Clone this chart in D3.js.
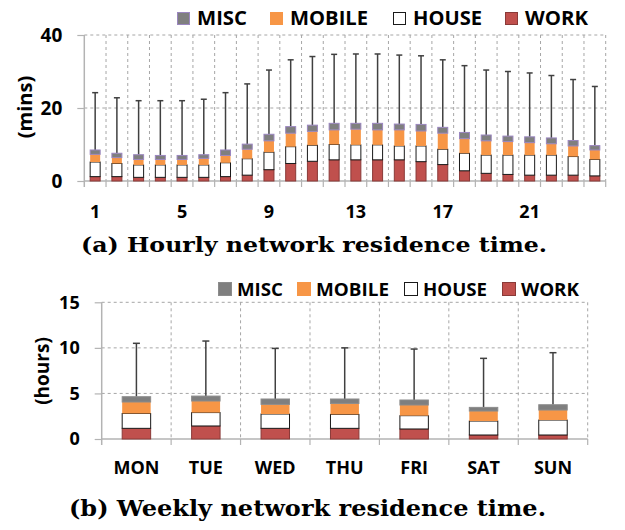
<!DOCTYPE html>
<html>
<head>
<meta charset="utf-8">
<script src="https://cdn.jsdelivr.net/npm/d3@7"></script>
<style>
  html, body { margin: 0; padding: 0; background: #fff; }
  svg { display: block; }
</style>
</head>
<body>
<svg id="chart" width="625" height="530"></svg>
<script>
// ---------- DATA ----------
const seriesNames = ["WORK", "HOUSE", "MOBILE", "MISC"];
const legendOrder = ["MISC", "MOBILE", "HOUSE", "WORK"];

// (a) hourly, minutes (segment values)
const hours = ["1","2","3","4","5","6","7","8","9","10","11","12","13","14","15","16","17","18","19","20","21","22","23","24"];
const hourWork   = [1.2,1.2,1.0,1.0,1.0,1.0,1.2,1.6,3.1,4.8,5.4,5.8,5.8,5.8,5.8,5.3,4.5,2.8,2.1,1.8,1.6,1.6,1.6,1.4];
const hourHouse  = [4.0,3.6,3.4,3.4,3.4,3.4,3.8,4.5,4.8,4.6,4.4,4.2,4.1,4.1,3.8,4.3,4.2,4.8,5.0,5.3,5.5,5.5,5.1,4.5];
const hourMobile = [2.1,1.6,1.5,1.5,1.5,1.8,2.0,2.6,3.1,3.7,3.8,4.0,4.3,4.1,4.4,4.1,4.4,4.0,3.9,3.7,3.4,3.1,2.9,2.6];
const hourMisc   = [1.2,1.2,1.3,1.1,1.1,1.0,1.5,1.4,1.8,1.8,1.7,1.8,1.6,1.8,1.6,1.8,1.6,1.7,1.6,1.5,1.6,1.6,1.5,1.2];
const hourMax    = [24.2,22.8,22.0,22.0,22.0,22.4,24.2,26.6,30.4,33.2,34.1,34.7,34.8,34.8,34.5,34.3,33.2,31.6,30.4,30.0,29.6,28.9,27.8,25.9];
const hourTicks  = [0, 20, 40];
const hourLabels = ["1","5","9","13","17","21"];

// (b) weekly, hours (segment values)
const days = ["MON","TUE","WED","THU","FRI","SAT","SUN"];
const dayWork   = [1.17,1.43,1.17,1.17,1.10,0.44,0.44];
const dayHouse  = [1.63,1.47,1.57,1.53,1.46,1.53,1.64];
const dayMobile = [1.26,1.27,1.06,1.20,1.17,1.10,1.10];
const dayMisc   = [0.58,0.54,0.59,0.49,0.55,0.40,0.58];
const dayMax    = [10.5,10.75,9.94,10.0,9.87,8.85,9.47];
const dayTicks  = [0, 5, 10, 15];

// ---------- STYLE ----------
const fills   = { WORK: "#c0504d", HOUSE: "#ffffff", MOBILE: "#f79646", MISC: "#7f7f7f" };
const strokes = { WORK: "#8a3a38", HOUSE: "#1a1a1a", MOBILE: "#f79646", MISC: "#9a86bf" };
const sans = "'Open Sans', 'DejaVu Sans', sans-serif";
const serif = "'DejaVu Serif', serif";
const gridColor = "#a6a6a6";
const axisColor = "#b3b3b3";

const svg = d3.select("#chart");

function drawPanel(cfg) {
  const g = svg.append("g");
  const rows = cfg.cats.map((c, i) => ({
    cat: c, WORK: cfg.work[i], HOUSE: cfg.house[i], MOBILE: cfg.mobile[i], MISC: cfg.misc[i], max: cfg.max[i]
  }));
  const x = d3.scaleBand().domain(cfg.cats).range([cfg.left, cfg.right]).padding(0);
  const y = d3.scaleLinear().domain([0, cfg.ymax]).range([cfg.bottom, cfg.top]);
  const step = x.step();
  const bw = step * cfg.barFrac;

  // horizontal dashed gridlines
  g.append("g").selectAll("line").data(cfg.ticks.filter(t => t > 0)).join("line")
    .attr("x1", cfg.left).attr("x2", cfg.right)
    .attr("y1", d => y(d)).attr("y2", d => y(d))
    .attr("stroke", gridColor).attr("stroke-width", 1).attr("stroke-dasharray", "3,3");

  // vertical dashed gridlines at category boundaries
  const bounds = d3.range(1, cfg.cats.length + 1).map(i => cfg.left + i * step);
  g.append("g").selectAll("line").data(bounds).join("line")
    .attr("x1", d => d).attr("x2", d => d)
    .attr("y1", cfg.top).attr("y2", cfg.bottom)
    .attr("stroke", gridColor).attr("stroke-width", 1).attr("stroke-dasharray", "3,3");

  // x axis line + boundary ticks
  g.append("line").attr("x1", cfg.left).attr("x2", cfg.right)
    .attr("y1", cfg.bottom).attr("y2", cfg.bottom)
    .attr("stroke", axisColor).attr("stroke-width", 1.5);
  g.append("g").selectAll("line").data(bounds).join("line")
    .attr("x1", d => d).attr("x2", d => d)
    .attr("y1", cfg.bottom).attr("y2", cfg.bottom + 6)
    .attr("stroke", axisColor).attr("stroke-width", 1.2);

  // y axis
  const ya = g.append("g").attr("transform", `translate(${cfg.left},0)`)
    .call(d3.axisLeft(y).tickValues(cfg.ticks).tickSize(7).tickPadding(15).tickSizeOuter(0));
  ya.select(".domain").attr("stroke", axisColor).attr("stroke-width", 1.5)
    .attr("d", `M0,${cfg.top}V${cfg.bottom + 6}`);
  ya.selectAll(".tick line").attr("stroke", axisColor).attr("stroke-width", 1.2);
  ya.selectAll(".tick text").attr("font-family", sans).attr("font-weight", 700)
    .attr("font-size", cfg.tickFont).attr("fill", "#000");

  // x labels
  const xa = g.append("g").attr("transform", `translate(0,${cfg.bottom})`)
    .call(d3.axisBottom(x).tickValues(cfg.xLabels).tickSize(0).tickPadding(cfg.xLabelPad));
  xa.select(".domain").remove();
  xa.selectAll(".tick text").attr("font-family", sans).attr("font-weight", 700)
    .attr("font-size", cfg.xFont).attr("fill", "#000");

  // y title
  g.append("text")
    .attr("transform", `translate(${cfg.ytitleX},${cfg.ytitleY}) rotate(-90)`)
    .attr("text-anchor", "middle").attr("dominant-baseline", "central")
    .attr("font-family", sans).attr("font-weight", 700).attr("font-size", cfg.ytitleFont)
    .text(cfg.ytitle);

  // stacked bars
  const stack = d3.stack().keys(seriesNames)(rows);
  const wg = g.append("g");
  wg.selectAll("line.w").data(rows).join("line")
    .attr("x1", d => x(d.cat) + step / 2).attr("x2", d => x(d.cat) + step / 2)
    .attr("y1", d => y(d.WORK + d.HOUSE + d.MOBILE + d.MISC)).attr("y2", d => y(d.max))
    .attr("stroke", "#404040").attr("stroke-width", 1.5);
  wg.selectAll("line.c").data(rows).join("line")
    .attr("x1", d => x(d.cat) + step / 2 - cfg.cap / 2).attr("x2", d => x(d.cat) + step / 2 + cfg.cap / 2)
    .attr("y1", d => y(d.max)).attr("y2", d => y(d.max))
    .attr("stroke", "#404040").attr("stroke-width", 1.5);

  stack.forEach(layer => {
    const key = layer.key;
    g.append("g").selectAll("rect").data(layer).join("rect")
      .attr("x", d => x(d.data.cat) + (step - bw) / 2)
      .attr("width", bw)
      .attr("y", d => y(d[1]))
      .attr("height", d => y(d[0]) - y(d[1]))
      .attr("fill", fills[key])
      .attr("stroke", key === "MISC" ? cfg.miscStroke : strokes[key])
      .attr("stroke-width", key === "MOBILE" ? 0 : 1);
  });

  // legend
  const lg = g.append("g");
  legendOrder.forEach((name, i) => {
    const lx = cfg.legendXs[i];
    lg.append("rect").attr("x", lx + 0.5).attr("y", cfg.legendY - cfg.sq + 0.5)
      .attr("width", cfg.sq - 1).attr("height", cfg.sq - 1)
      .attr("fill", fills[name])
      .attr("stroke", name === "MISC" ? cfg.miscStroke : (name === "MOBILE" ? fills[name] : strokes[name]))
      .attr("stroke-width", 1);
    lg.append("text").attr("x", lx + cfg.sq + cfg.sqGap).attr("y", cfg.legendY)
      .attr("font-family", sans).attr("font-weight", 700).attr("font-size", cfg.legendFont)
      .attr("textLength", cfg.legendLens[i]).attr("lengthAdjust", "spacingAndGlyphs")
      .text(name);
  });

  // caption
  svg.append("text").attr("x", cfg.capX).attr("y", cfg.capY)
    .attr("font-family", serif).attr("font-weight", 700).attr("font-size", cfg.capFont)
    .attr("textLength", cfg.capLen).attr("lengthAdjust", "spacingAndGlyphs")
    .text(cfg.caption);
}

drawPanel({
  cats: hours, work: hourWork, house: hourHouse, mobile: hourMobile, misc: hourMisc, max: hourMax,
  ticks: hourTicks, xLabels: hourLabels, ymax: 40,
  left: 84.3, right: 605.7, top: 35, bottom: 181,
  barFrac: 0.46, cap: 6, tickFont: 19, xFont: 18, xLabelPad: 24,
  ytitle: "(mins)", ytitleX: 24, ytitleY: 107, ytitleFont: 20,
  miscStroke: "#9a86bf",
  legendXs: [177, 270, 393, 505], legendLens: [50, 78, 69, 63],
  legendY: 25, sq: 13, sqGap: 7, legendFont: 19,
  caption: "(a) Hourly network residence time.", capX: 81, capY: 252, capFont: 21, capLen: 466
});

drawPanel({
  cats: days, work: dayWork, house: dayHouse, mobile: dayMobile, misc: dayMisc, max: dayMax,
  ticks: dayTicks, xLabels: days, ymax: 15,
  left: 101.7, right: 587.7, top: 302.3, bottom: 439,
  barFrac: 0.41, cap: 7, tickFont: 18, xFont: 18, xLabelPad: 22,
  ytitle: "(hours)", ytitleX: 42, ytitleY: 371, ytitleFont: 19,
  miscStroke: "#8c8c8c",
  legendXs: [218, 297, 404, 502], legendLens: [46, 73, 64, 58],
  legendY: 296, sq: 14, sqGap: 5, legendFont: 18,
  caption: "(b) Weekly network residence time.", capX: 69, capY: 516, capFont: 22, capLen: 477
});
</script>
</body>
</html>
